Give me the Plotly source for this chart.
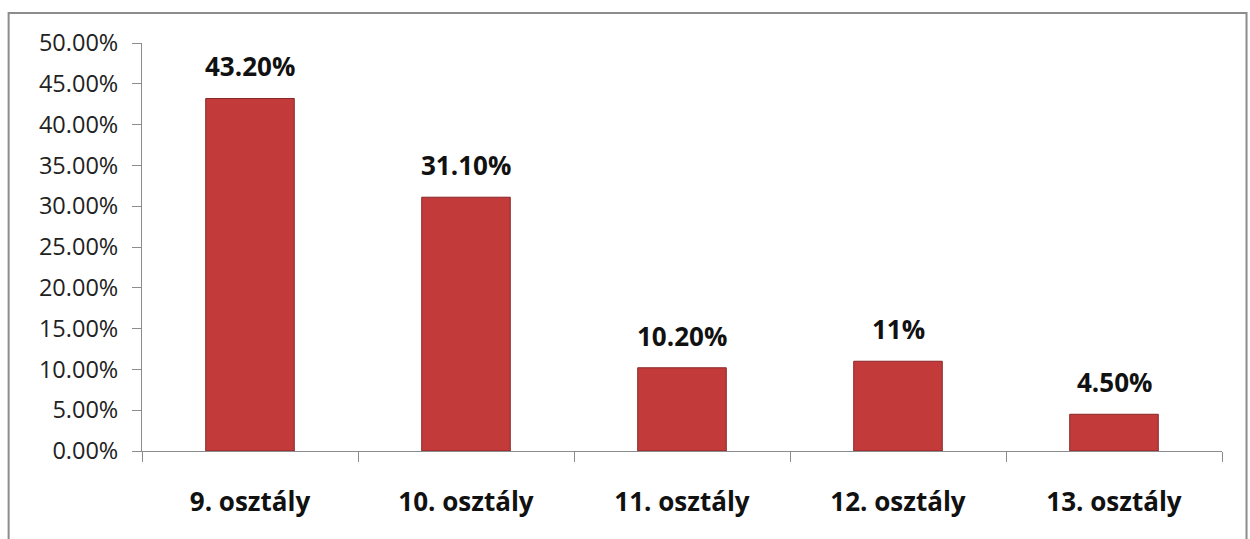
import plotly.graph_objects as go

categories = ["9. osztály", "10. osztály", "11. osztály", "12. osztály", "13. osztály"]
values = [0.432, 0.311, 0.102, 0.11, 0.045]
value_labels = ["43.20%", "31.10%", "10.20%", "11%", "4.50%"]
tick_vals = [0, 0.05, 0.10, 0.15, 0.20, 0.25, 0.30, 0.35, 0.40, 0.45, 0.50]

FONT = "Open Sans"

fig = go.Figure()
fig.add_trace(go.Bar(
    x=categories, y=values,
    marker=dict(color="#C23B3A", line=dict(color="#8A2626", width=1)),
    width=0.41,
    hoverinfo="skip",
))

for c, v, t in zip(categories, values, value_labels):
    fig.add_annotation(x=c, y=v, text="<b>%s</b>" % t, showarrow=False,
                       yanchor="bottom", yshift=12,
                       font=dict(family=FONT, size=26, color="#111111"))

fig.add_shape(type="rect", xref="paper", yref="paper",
              x0=-0.1235, x1=1.0227, y0=-0.4, y1=1.0735,
              line=dict(color="#8C8C8C", width=2), layer="below")

fig.update_layout(
    width=1250, height=539,
    margin=dict(l=142, r=28, t=43, b=88, autoexpand=False),
    paper_bgcolor="white", plot_bgcolor="white",
    showlegend=False,
    xaxis=dict(
        type="category", showgrid=False, showline=True, linecolor="#8C8C8C", linewidth=1,
        ticks="outside", tickson="boundaries", ticklen=10, tickcolor="#8C8C8C",
        tickfont=dict(family=FONT, size=26, color="#111111"),
        tickprefix="<b>", ticksuffix="</b>",
        ticklabelstandoff=28,
        range=[-0.5, 4.5],
    ),
    yaxis=dict(
        range=[0, 0.5], tickvals=tick_vals, tickformat=".2%",
        showgrid=False, showline=True, linecolor="#8C8C8C", linewidth=1,
        ticks="outside", ticklen=9, tickcolor="#8C8C8C",
        tickfont=dict(family=FONT, size=23.5, color="#222222"),
        ticklabelstandoff=9,
        zeroline=False,
    ),
)

fig.write_html("out.html")
